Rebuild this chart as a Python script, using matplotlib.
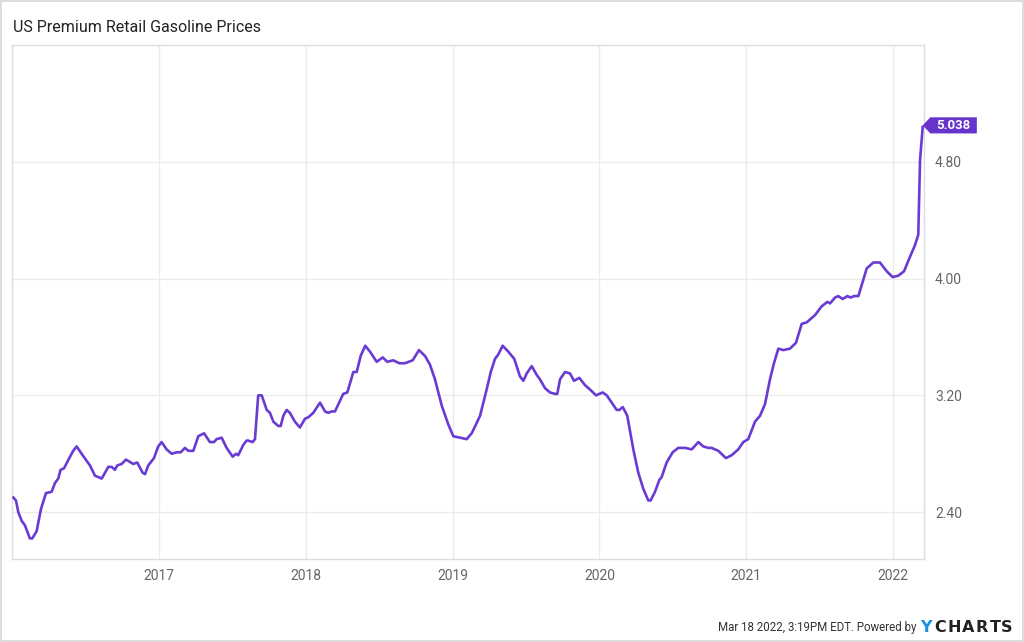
import matplotlib
matplotlib.use("Agg")
import matplotlib.pyplot as plt
import matplotlib.transforms as mtransforms
from matplotlib.patches import Polygon, Rectangle

# ---- data (decimal years, price in USD/gal) ----
t = [2016.008, 2016.026, 2016.042, 2016.065, 2016.087, 2016.121, 2016.137, 2016.167,
     2016.196, 2016.230, 2016.269, 2016.292, 2016.314, 2016.330, 2016.353, 2016.389,
     2016.416, 2016.439, 2016.480, 2016.530, 2016.564, 2016.610, 2016.655, 2016.678,
     2016.700, 2016.716, 2016.746, 2016.775, 2016.825, 2016.852, 2016.889, 2016.905,
     2016.927, 2016.966, 2016.995, 2017.018, 2017.052, 2017.087, 2017.121, 2017.148,
     2017.177, 2017.200, 2017.234, 2017.268, 2017.307, 2017.347, 2017.375, 2017.393,
     2017.427, 2017.461, 2017.502, 2017.525, 2017.540, 2017.574, 2017.597, 2017.608,
     2017.638, 2017.654, 2017.676, 2017.700, 2017.734, 2017.756, 2017.779, 2017.813,
     2017.829, 2017.847, 2017.870, 2017.892, 2017.926, 2017.960, 2017.995, 2018.017,
     2018.051, 2018.097, 2018.131, 2018.153, 2018.176, 2018.199, 2018.255, 2018.283,
     2018.324, 2018.347, 2018.374, 2018.405, 2018.437, 2018.483, 2018.524, 2018.555,
     2018.596, 2018.637, 2018.676, 2018.728, 2018.771, 2018.812, 2018.846, 2018.880,
     2018.926, 2018.971, 2019.005, 2019.050, 2019.096, 2019.130, 2019.159, 2019.187,
     2019.232, 2019.260, 2019.289, 2019.311, 2019.341, 2019.379, 2019.420, 2019.459,
     2019.482, 2019.505, 2019.539, 2019.573, 2019.595, 2019.629, 2019.663, 2019.698,
     2019.713, 2019.732, 2019.766, 2019.800, 2019.827, 2019.863, 2019.902, 2019.936,
     2019.977, 2020.022, 2020.050, 2020.077, 2020.118, 2020.136, 2020.159, 2020.190,
     2020.231, 2020.265, 2020.299, 2020.333, 2020.349, 2020.379, 2020.408, 2020.424,
     2020.458, 2020.499, 2020.537, 2020.583, 2020.629, 2020.674, 2020.708, 2020.742,
     2020.765, 2020.810, 2020.862, 2020.901, 2020.946, 2020.980, 2021.014, 2021.060,
     2021.094, 2021.128, 2021.162, 2021.189, 2021.219, 2021.253, 2021.298, 2021.339,
     2021.378, 2021.412, 2021.446, 2021.469, 2021.514, 2021.552, 2021.571, 2021.605,
     2021.627, 2021.657, 2021.689, 2021.712, 2021.734, 2021.764, 2021.821, 2021.866,
     2021.911, 2021.957, 2021.998, 2022.036, 2022.075, 2022.116, 2022.150, 2022.172,
     2022.184, 2022.202]
price = [2.50, 2.48, 2.40, 2.34, 2.31, 2.22, 2.22, 2.27,
         2.42, 2.53, 2.54, 2.60, 2.63, 2.69, 2.70, 2.77,
         2.82, 2.85, 2.79, 2.72, 2.65, 2.63, 2.71, 2.71,
         2.69, 2.72, 2.73, 2.76, 2.73, 2.74, 2.67, 2.66,
         2.72, 2.77, 2.85, 2.88, 2.83, 2.80, 2.81, 2.81,
         2.84, 2.82, 2.82, 2.92, 2.94, 2.88, 2.88, 2.90,
         2.91, 2.84, 2.78, 2.80, 2.79, 2.86, 2.89, 2.89,
         2.88, 2.90, 3.20, 3.20, 3.10, 3.08, 3.02, 2.99,
         2.99, 3.06, 3.10, 3.08, 3.02, 2.98, 3.04, 3.05,
         3.08, 3.15, 3.09, 3.08, 3.09, 3.09, 3.21, 3.22,
         3.36, 3.36, 3.47, 3.54, 3.50, 3.43, 3.46, 3.43,
         3.44, 3.42, 3.42, 3.44, 3.51, 3.47, 3.41, 3.31,
         3.13, 3.00, 2.92, 2.91, 2.90, 2.94, 3.00, 3.06,
         3.24, 3.36, 3.45, 3.48, 3.54, 3.50, 3.45, 3.33,
         3.30, 3.35, 3.40, 3.34, 3.31, 3.25, 3.22, 3.21,
         3.21, 3.31, 3.36, 3.35, 3.30, 3.32, 3.27, 3.24,
         3.20, 3.22, 3.20, 3.16, 3.10, 3.10, 3.12, 3.06,
         2.83, 2.67, 2.56, 2.48, 2.48, 2.54, 2.62, 2.64,
         2.74, 2.81, 2.84, 2.84, 2.83, 2.88, 2.85, 2.84,
         2.84, 2.82, 2.77, 2.79, 2.83, 2.88, 2.90, 3.02,
         3.06, 3.14, 3.31, 3.42, 3.52, 3.51, 3.52, 3.56,
         3.69, 3.70, 3.73, 3.75, 3.81, 3.84, 3.83, 3.87,
         3.88, 3.86, 3.88, 3.87, 3.88, 3.88, 4.07, 4.11,
         4.11, 4.05, 4.01, 4.02, 4.05, 4.15, 4.23, 4.30,
         4.81, 5.038]

year_ticks = [2017, 2018, 2019, 2020, 2021, 2022]
year_labels = ["2017", "2018", "2019", "2020", "2021", "2022"]
price_ticks = [2.40, 3.20, 4.00, 4.80]
price_labels = ["2.40", "3.20", "4.00", "4.80"]
last_label = "5.038"
title = "US Premium Retail Gasoline Prices"
footer = "Mar 18 2022, 3:19PM EDT. Powered by"

# ---- styling ----
plt.rcParams['font.family'] = ['Roboto', 'DejaVu Sans']
LINE = '#6a3bd4'
BOX = '#6633cc'
GRID = '#ececec'
SPINE = '#dddddd'
TICK = '#666666'

fig = plt.figure(figsize=(10.24, 6.42), dpi=100)
ax = fig.add_axes([12/1024, 1-559/642, (924-12)/1024, (559-45)/642])

ax.plot(t, price, color=LINE, lw=1.9, solid_joinstyle='round', zorder=3)

ax.set_xlim(2015.999, 2022.211)
ax.set_ylim(2.079, 5.60)

ax.set_xticks(year_ticks)
ax.set_xticklabels(year_labels)
ax.set_yticks(price_ticks)
ax.set_yticklabels(price_labels)
ax.yaxis.tick_right()
ax.tick_params(axis='both', length=0, colors=TICK, labelsize=10)
ax.tick_params(axis='y', pad=8)
ax.tick_params(axis='x', pad=7)
ax.grid(True, color=GRID, lw=1)
ax.set_axisbelow(True)
for s in ax.spines.values():
    s.set_color(SPINE)
    s.set_linewidth(1)

# last-value tag
xl, yl = t[-1], price[-1]
trans = mtransforms.Affine2D().scale(fig.dpi / 72) + \
    mtransforms.ScaledTranslation(xl, yl, ax.transData)
tag = Polygon([(0, 1.2), (5.5, 7.0), (39, 7.0), (39, -4.6), (5.5, -4.6)],
              closed=True, transform=trans, facecolor=BOX, edgecolor='none',
              clip_on=False, zorder=5)
ax.add_patch(tag)
ax.annotate(last_label, xy=(xl, yl), xytext=(22, 1.2), textcoords='offset points',
            ha='center', va='center', color='white', fontsize=9.5,
            fontweight='bold', zorder=6, annotation_clip=False)

# title
fig.text(13/1024, 1-27/642, title, ha='left', va='center', fontsize=11.5,
         color='#222222')

# footer
fig.text(917/1024, 1-628/642, footer, ha='right', va='center', fontsize=8.3,
         color='#333333')
logo = "YCHARTS"
logo_x = [926, 940, 954, 968, 982, 995, 1007]
for ch, lx in zip(logo, logo_x):
    fig.text(lx/1024, 1-627/642, ch, ha='center', va='center', fontsize=11.5,
             fontweight='bold', color='#1b8fe3' if ch == 'Y' else '#222222',
             family=['DejaVu Sans'])

# outer border
fig.patches.append(Rectangle((0.0008, 0.0012), 0.9984, 0.9976,
                             transform=fig.transFigure, fill=False,
                             edgecolor='#d6d6d6', lw=1.2))

fig.savefig('out.png', dpi=100, facecolor='white')
